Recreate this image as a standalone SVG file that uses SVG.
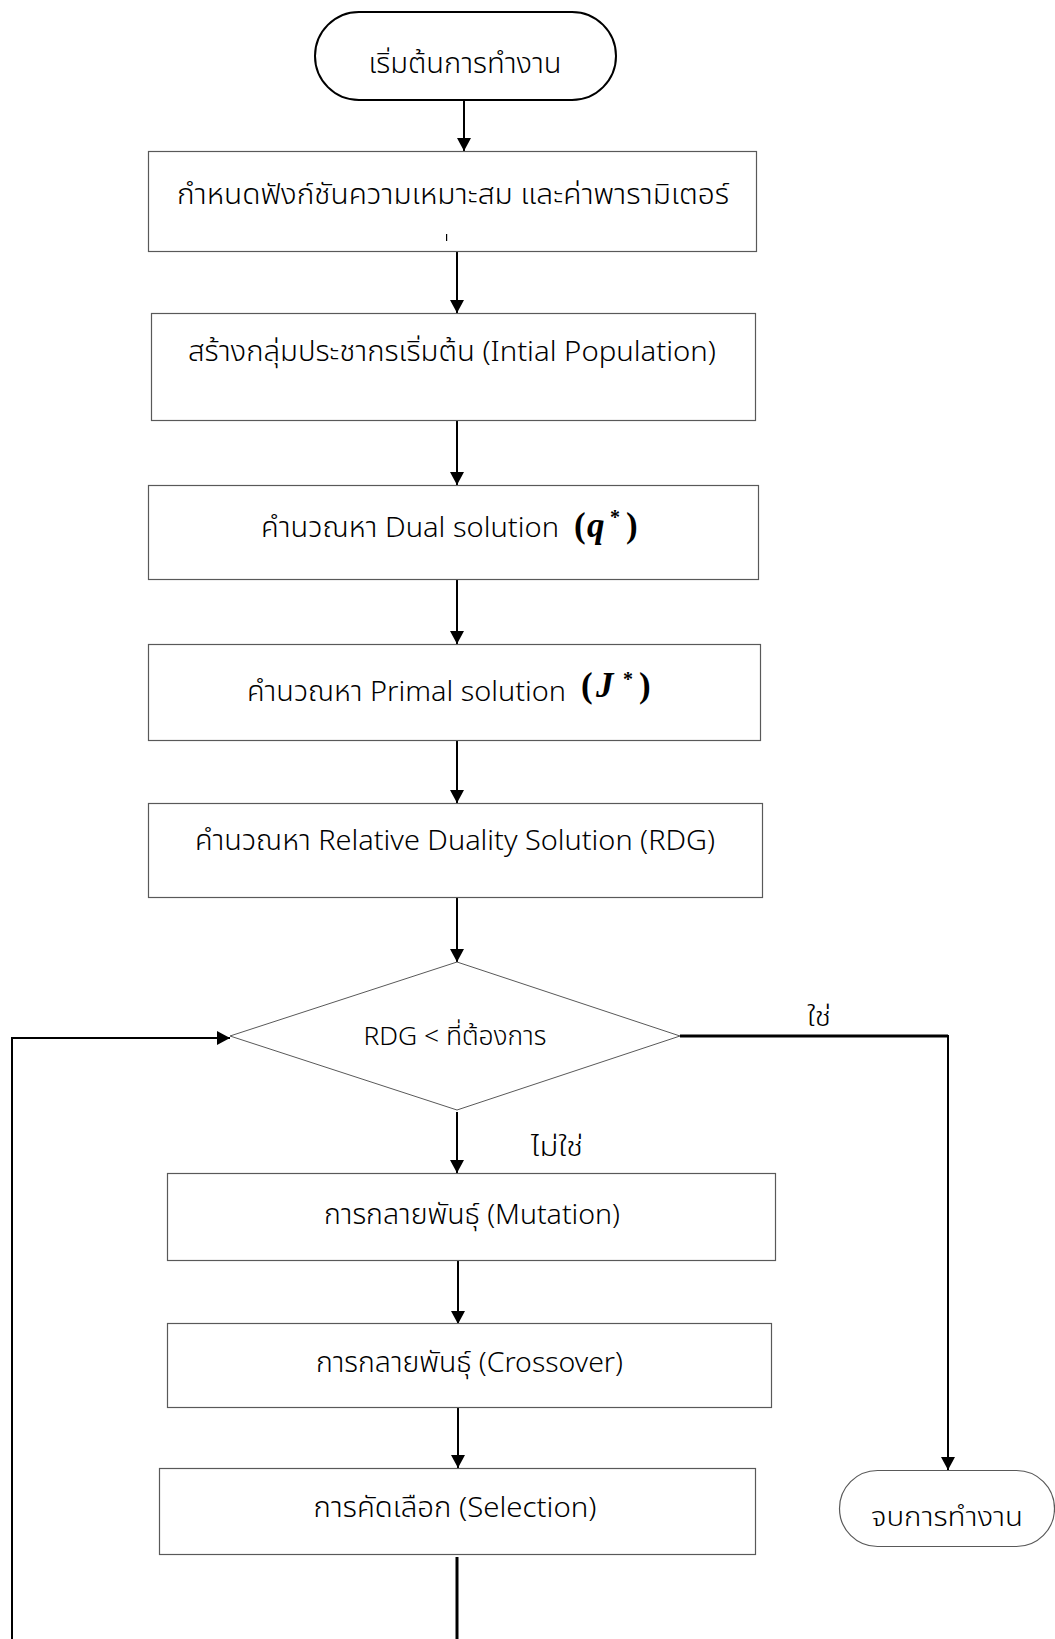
<svg xmlns="http://www.w3.org/2000/svg" width="1055" height="1639" viewBox="0 0 1055 1639">
  <style>
    .box { fill: #ffffff; stroke: #595959; stroke-width: 1.2; }
    .term { fill: #ffffff; stroke: #000000; stroke-width: 2; }
    .term2 { fill: #ffffff; stroke: #595959; stroke-width: 1.2; }
    .dia { fill: #ffffff; stroke: #595959; stroke-width: 1; }
    .t { font-family: "Noto Sans", "Noto Sans Thai", "Leelawadee UI", sans-serif; font-weight: 300; font-size: 28px; fill: #000; text-anchor: middle; }
    .ts { font-family: "Noto Sans", "Noto Sans Thai", "Leelawadee UI", sans-serif; font-weight: 300; font-size: 28px; fill: #000; text-anchor: start; }
    .tn { font-family: "Noto Sans", "Noto Sans Thai", sans-serif; font-weight: 300; font-size: 26px; fill: #000; text-anchor: middle; }
    .m { font-family: "Liberation Serif", "Times New Roman", serif; font-weight: bold; font-size: 35px; fill: #000; }
    .ms { font-family: "Liberation Serif", "Times New Roman", serif; font-weight: bold; font-size: 20px; fill: #000; }
    .c { fill: none; stroke: #000; stroke-width: 2; }
    .ck { fill: none; stroke: #000; stroke-width: 3; }
  </style>
  <defs>
    <marker id="ah" viewBox="0 0 13 14" refX="13" refY="7" markerWidth="13" markerHeight="14" markerUnits="userSpaceOnUse" orient="auto">
      <path d="M0,0 L13,7 L0,14 Z" fill="#000"/>
    </marker>
  </defs>

  <!-- connectors -->
  <g id="connectors">
    <line class="c" x1="464" y1="101" x2="464" y2="151" marker-end="url(#ah)"/>
    <line class="c" x1="457" y1="251" x2="457" y2="313" marker-end="url(#ah)"/>
    <line class="c" x1="457" y1="420" x2="457" y2="485" marker-end="url(#ah)"/>
    <line class="c" x1="457" y1="579" x2="457" y2="644" marker-end="url(#ah)"/>
    <line class="c" x1="457" y1="740" x2="457" y2="803" marker-end="url(#ah)"/>
    <line class="c" x1="457" y1="897" x2="457" y2="962" marker-end="url(#ah)"/>
    <line class="c" x1="457" y1="1112" x2="457" y2="1173" marker-end="url(#ah)"/>
    <line class="c" x1="458" y1="1261" x2="458" y2="1324" marker-end="url(#ah)"/>
    <line class="c" x1="458" y1="1407" x2="458" y2="1468" marker-end="url(#ah)"/>
    <!-- yes branch to end -->
    <line class="ck" x1="680" y1="1036" x2="948" y2="1036"/>
    <line class="c" x1="948" y1="1035" x2="948" y2="1470" marker-end="url(#ah)"/>
    <!-- loop back from selection -->
    <line class="ck" x1="457" y1="1557" x2="457" y2="1639"/>
    <polyline class="c" points="12,1639 12,1038 230,1038" marker-end="url(#ah)"/>
  </g>

  <g id="start">
    <rect class="term" x="315" y="12" width="301" height="88" rx="44" ry="44"/>
    <text class="t" x="465" y="73" textLength="193" lengthAdjust="spacingAndGlyphs">เริ่มต้นการทำงาน</text>
  </g>

  <g id="define-fitness">
    <rect class="box" x="148.5" y="151.5" width="608" height="100"/>
    <text class="t" x="453" y="204" textLength="552" lengthAdjust="spacingAndGlyphs">กำหนดฟังก์ชันความเหมาะสม และค่าพารามิเตอร์</text>
    <rect x="446" y="234" width="1.2" height="7" fill="#000"/>
  </g>

  <g id="init-population">
    <rect class="box" x="151.5" y="313.5" width="604" height="107"/>
    <text class="t" x="452" y="361" textLength="528" lengthAdjust="spacingAndGlyphs">สร้างกลุ่มประชากรเริ่มต้น (Intial Population)</text>
  </g>

  <g id="dual-solution">
    <rect class="box" x="148.5" y="485.5" width="610" height="94"/>
    <text class="ts" x="261" y="537" textLength="298" lengthAdjust="spacingAndGlyphs">คำนวณหา Dual solution</text>
    <text class="m" x="574" y="537">(</text>
    <text class="m" x="587" y="537" font-style="italic">q</text>
    <text class="ms" x="610" y="524">*</text>
    <text class="m" x="626" y="537">)</text>
  </g>

  <g id="primal-solution">
    <rect class="box" x="148.5" y="644.5" width="612" height="96"/>
    <text class="ts" x="247" y="701" textLength="319" lengthAdjust="spacingAndGlyphs">คำนวณหา Primal solution</text>
    <text class="m" x="581" y="697">(</text>
    <text class="m" x="596" y="697" font-style="italic" font-size="38">J</text>
    <text class="ms" x="623" y="686">*</text>
    <text class="m" x="639" y="697">)</text>
  </g>

  <g id="rdg">
    <rect class="box" x="148.5" y="803.5" width="614" height="94"/>
    <text class="t" x="455" y="850" textLength="520" lengthAdjust="spacingAndGlyphs">คำนวณหา Relative Duality Solution (RDG)</text>
  </g>

  <g id="decision">
    <polygon class="dia" points="457,962 680,1036 457,1110 230,1036"/>
    <text class="tn" x="455" y="1045" textLength="183" lengthAdjust="spacingAndGlyphs">RDG &lt; ที่ต้องการ</text>
    <text class="tn" x="819" y="1026" textLength="24" lengthAdjust="spacingAndGlyphs">ใช่</text>
    <text class="tn" x="557" y="1156" textLength="52" lengthAdjust="spacingAndGlyphs">ไม่ใช่</text>
  </g>

  <g id="mutation">
    <rect class="box" x="167.5" y="1173.5" width="608" height="87"/>
    <text class="t" x="472" y="1224" textLength="296" lengthAdjust="spacingAndGlyphs">การกลายพันธุ์ (Mutation)</text>
  </g>

  <g id="crossover">
    <rect class="box" x="167.5" y="1323.5" width="604" height="84"/>
    <text class="t" x="469.5" y="1372" textLength="307" lengthAdjust="spacingAndGlyphs">การกลายพันธุ์ (Crossover)</text>
  </g>

  <g id="selection">
    <rect class="box" x="159.5" y="1468.5" width="596" height="86"/>
    <text class="t" x="455" y="1517" textLength="283" lengthAdjust="spacingAndGlyphs">การคัดเลือก (Selection)</text>
  </g>

  <g id="end">
    <rect class="term2" x="839.5" y="1470.5" width="215" height="76" rx="38" ry="38"/>
    <text class="tn" x="947" y="1526" textLength="152" lengthAdjust="spacingAndGlyphs">จบการทำงาน</text>
  </g>
</svg>
